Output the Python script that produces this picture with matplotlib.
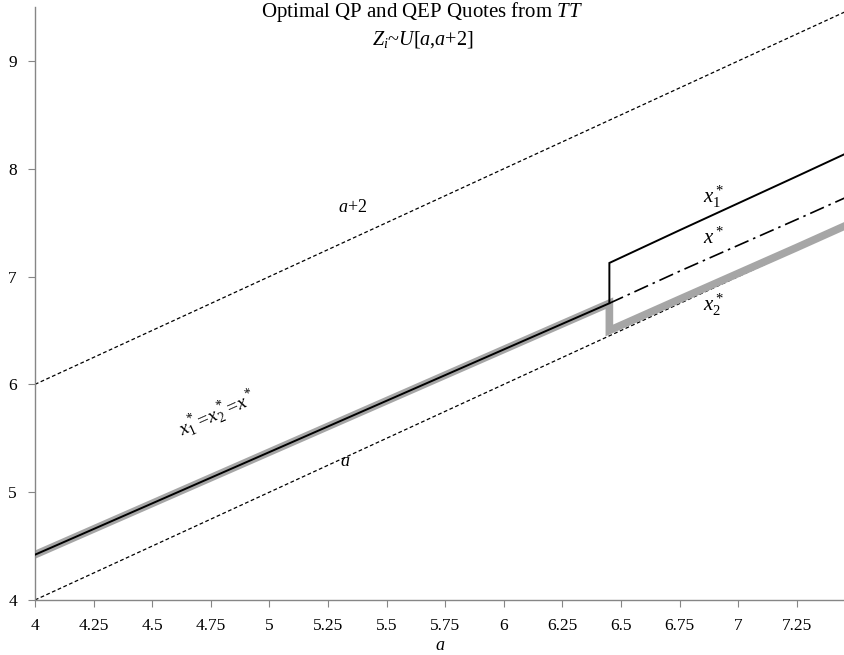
import numpy as np
import matplotlib
matplotlib.use("Agg")
import matplotlib.pyplot as plt

plt.rcParams["font.family"] = ["Liberation Serif", "DejaVu Serif"]
plt.rcParams["mathtext.fontset"] = "custom"
plt.rcParams["mathtext.rm"] = "Liberation Serif"
plt.rcParams["mathtext.it"] = "Liberation Serif:italic"

# values
a_all = [4.0, 7.455]
a_common = [4.0, 4.25, 4.5, 4.75, 5.0, 5.25, 5.5, 5.75, 6.0, 6.25, 6.45]
x_common = [4.42, 4.658, 4.896, 5.134, 5.372, 5.61, 5.848, 6.086, 6.324,
            6.562, 6.752]
a_split = [6.45, 6.75, 7.0, 7.25, 7.455]
x1_split = [7.126, 7.43, 7.68, 7.93, 8.137]
xs_split = [6.752, 7.05, 7.29, 7.53, 7.73]
x2_split = [6.50, 6.79, 7.03, 7.27, 7.47]

xticks = [4, 4.25, 4.5, 4.75, 5, 5.25, 5.5, 5.75, 6, 6.25, 6.5, 6.75, 7, 7.25]
xticklabels = ["4", "4.25", "4.5", "4.75", "5", "5.25", "5.5", "5.75", "6",
               "6.25", "6.5", "6.75", "7", "7.25"]
yticks = [4, 5, 6, 7, 8, 9]

fig = plt.figure(figsize=(8.45, 6.55), dpi=100)
ax = fig.add_axes([0.0414, 0.084, 0.9586, 0.9053])

grey = "#a6a6a6"
a_arr = np.array(a_all)

# bornes a et a+2
ax.plot(a_arr, a_arr + 2, color="black", lw=0.9, ls=(0, (3, 2)))
ax.plot(a_arr, a_arr, color="black", lw=0.9, ls=(0, (3, 2)))

# x2* (gris, epais) avec la chute
ax.plot(a_common + a_split, x_common + x2_split, color=grey, lw=5.5,
        solid_joinstyle="miter", zorder=2)
# x1* (noir)
ax.plot(a_common + a_split, x_common + x1_split, color="black", lw=1.4,
        solid_joinstyle="miter", zorder=3)
# x* (tiret-point)
ax.plot(a_split, xs_split, color="black", lw=1.2,
        ls=(0, (9, 3, 1.5, 3)), zorder=3)

ax.set_xlim(4, 7.455)
ax.set_ylim(4, 9.5)
ax.set_xticks(xticks)
ax.set_xticklabels(xticklabels)
ax.set_yticks(yticks)

for s in ["top", "right"]:
    ax.spines[s].set_visible(False)
for s in ["left", "bottom"]:
    ax.spines[s].set_color("#868686")
    ax.spines[s].set_linewidth(1.0)
ax.tick_params(axis="both", colors="#868686", labelcolor="black",
               labelsize=12.5, length=5, width=0.8, direction="out")
ax.tick_params(axis="x", pad=8)
ax.tick_params(axis="y", pad=8)

ax.set_xlabel("$a$", fontsize=13, labelpad=2)

fig.text(0.5, 0.982, "Optimal QP and QEP Quotes from $TT$", ha="center",
         va="center", fontsize=15)
fig.text(0.5, 0.94, r"$Z_i$~$U$[$a$,$a$+2]", ha="center", va="center",
         fontsize=14.5)

ax.text(5.354, 7.636, "$a$+2", ha="center", va="center", fontsize=13)
ax.text(5.324, 5.28, "$a$", ha="center", va="center", fontsize=13)
ax.text(6.895, 7.74, r"$x_1^*$", ha="center", va="center", fontsize=15)
ax.text(6.895, 7.36, r"$x^*$", ha="center", va="center", fontsize=15)
ax.text(6.895, 6.74, r"$x_2^*$", ha="center", va="center", fontsize=15)
ax.text(4.78, 5.72, r"$x_1^*$=$x_2^*$=$x^*$", ha="center", va="center",
        fontsize=14, rotation=24, rotation_mode="anchor")

fig.savefig("out.png", dpi=100)
